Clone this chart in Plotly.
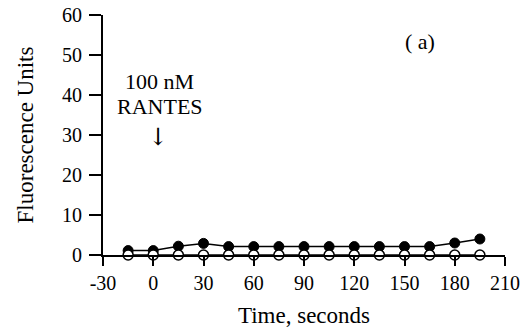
import plotly.graph_objects as go

time_s = [-15, 0, 15, 30, 45, 60, 75, 90, 105, 120, 135, 150, 165, 180, 195]
filled = [1.1, 1.1, 2.2, 2.9, 2.1, 2.1, 2.1, 2.1, 2.1, 2.1, 2.1, 2.1, 2.1, 3.0, 4.0]
open_ = [0, 0, 0, 0, 0, 0, 0, 0, 0, 0, 0, 0, 0, 0, 0]
x_ticks = [-30, 0, 30, 60, 90, 120, 150, 180, 210]
x_tick_labels = ["-30", "0", "30", "60", "90", "120", "150", "180", "210"]
y_ticks = [0, 10, 20, 30, 40, 50, 60]

sf = "Liberation Serif"
fig = go.Figure()
fig.add_trace(go.Scatter(x=time_s, y=filled, mode="lines+markers",
                         line=dict(color="black", width=1.5),
                         marker=dict(size=10, color="black", line=dict(color="black", width=1)),
                         cliponaxis=False, showlegend=False))
fig.add_trace(go.Scatter(x=time_s, y=open_, mode="lines+markers",
                         line=dict(color="black", width=1.5),
                         marker=dict(size=10, color="white", line=dict(color="black", width=1.5)),
                         cliponaxis=False, showlegend=False))

fig.update_layout(
    width=520, height=333,
    margin=dict(l=103, r=15, t=15, b=78),
    plot_bgcolor="white", paper_bgcolor="white",
    font=dict(family=sf, size=20, color="black"),
    xaxis=dict(range=[-30, 210], tickvals=x_ticks, ticktext=x_tick_labels,
               ticks="outside", ticklen=9,
               tickwidth=2, tickcolor="black", showline=True, linecolor="black",
               linewidth=2, showgrid=False, zeroline=False, ticklabelstandoff=0,
               automargin=False,
               title=dict(text="Time, seconds", font=dict(family=sf, size=23), standoff=14),
               tickfont=dict(family=sf, size=20)),
    yaxis=dict(range=[0, 60], tickvals=y_ticks, ticks="outside", ticklen=12,
               tickwidth=2, tickcolor="black", showline=True, linecolor="black",
               linewidth=2, showgrid=False, zeroline=False, ticklabelstandoff=3,
               automargin=False,
               title=dict(text="Fluorescence Units", font=dict(family=sf, size=23), standoff=22),
               tickfont=dict(family=sf, size=20)),
    annotations=[
        dict(x=159, y=53.3, text="( a)", showarrow=False, font=dict(family=sf, size=22)),
        dict(x=4, y=43.4, text="100 nM", showarrow=False, font=dict(family=sf, size=22)),
        dict(x=4, y=37.2, text="RANTES", showarrow=False, font=dict(family=sf, size=22)),
        dict(x=3, y=29.5, text="↓", showarrow=False, font=dict(family="DejaVu Serif", size=24)),
    ],
)
fig.write_html("out.html", config={"displayModeBar": False},
               post_script="document.body.style.margin='0';")
